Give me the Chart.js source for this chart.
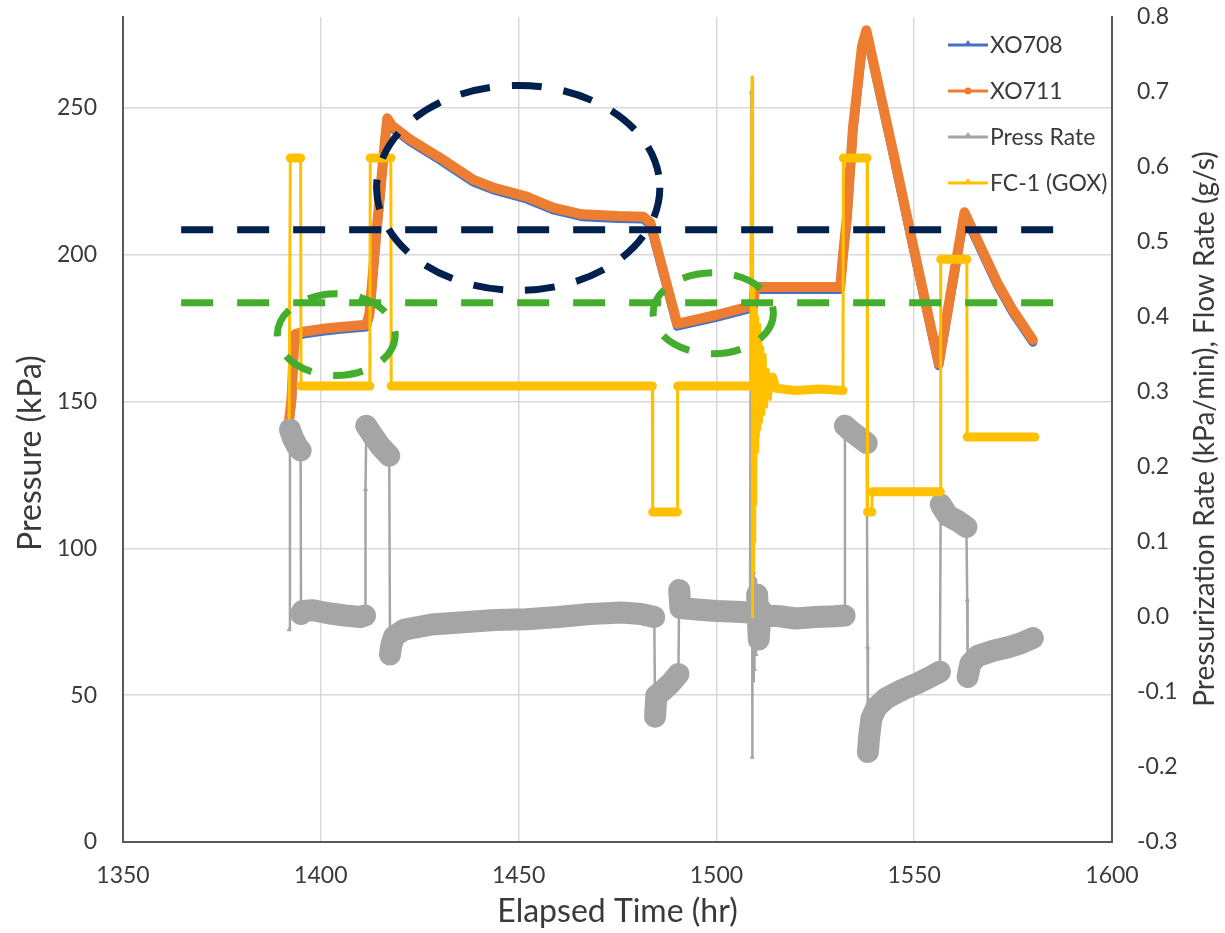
<!DOCTYPE html>
<html>
<head>
<meta charset="utf-8">
<title>Tank pressure and GOX flow</title>
<script src="https://cdn.jsdelivr.net/npm/chart.js@4.4.1/dist/chart.umd.min.js"></script>
<style>
  html, body { margin: 0; padding: 0; background: #fff; }
  #wrap { width: 1225px; height: 933px; }
</style>
</head>
<body>
<div id="wrap"><canvas id="chart"></canvas></div>
<script>
// tank pressure, kPa, against elapsed hours
const pressTime = [1392.0, 1392.6, 1393.2, 1393.6, 1396, 1400, 1405, 1411.5, 1412.3, 1413.0,
  1414.0, 1415.0, 1416.0, 1416.8, 1418.0, 1422.6, 1430.2, 1438.5, 1443.6, 1452,
  1458.7, 1466, 1475, 1481.5, 1483.3, 1490.1, 1500, 1508, 1509.3, 1509.8,
  1520, 1531.3, 1532.0, 1533.0, 1534.5, 1536.8, 1537.9, 1545, 1550, 1556.2,
  1562.7, 1571, 1575, 1580];
const xo711 = [144, 151, 168, 173, 173.9, 174.7, 175.4, 176.2, 180, 191,
  207, 221, 236, 246.5, 244, 239.3, 233, 225.6, 222.9, 219.8,
  216.1, 213.8, 213.2, 213, 211, 176.5, 179.5, 182.3, 183, 189,
  189, 189, 200, 213, 243, 271, 276.5, 233, 201.5, 163,
  214.5, 190.5, 181, 171];
const xo708 = [143.2, 150.2, 167.2, 172.2, 173.1, 173.9, 174.6, 175.4, 179.2, 190.2,
  206.2, 220.2, 235.2, 245.7, 243.2, 238.5, 232.2, 224.8, 222.1, 219.0,
  215.3, 213.0, 212.4, 212.2, 210.2, 175.7, 178.7, 181.5, 182.2, 188.2,
  188.2, 188.2, 199.2, 212.2, 242.2, 270.2, 275.7, 232.2, 200.7, 162.2,
  213.7, 189.7, 180.2, 170.2];

// pressurization rate, kPa/min
const rateTime = [1392.0, 1392.2, 1393.0, 1394.0, 1394.9, 1395.0, 1395.4, 1398, 1402, 1406,
  1410, 1411.2, 1411.3, 1411.5, 1413, 1415, 1417.3, 1417.5, 1417.8, 1418.5,
  1421, 1428, 1436, 1444, 1452, 1460, 1468, 1476, 1481, 1484.3,
  1484.5, 1484.8, 1486.5, 1488.5, 1490.4, 1490.6, 1490.9, 1495, 1500, 1505,
  1508.5, 1508.8, 1508.9, 1509.0, 1509.05, 1509.15, 1509.3, 1509.45, 1509.6, 1509.8,
  1510.0, 1510.3, 1510.7, 1511.2, 1512, 1516, 1520, 1525, 1530, 1532.4,
  1532.5, 1534, 1536, 1538.0, 1538.2, 1538.3, 1538.6, 1539.2, 1540.5, 1543,
  1547, 1551, 1554, 1556.5, 1556.7, 1558.5, 1561, 1563.2, 1563.4, 1563.5,
  1564.2, 1566, 1570, 1574, 1577, 1580];
const pressRate = [-0.017, 0.25, 0.238, 0.228, 0.222, 0.004, 0.008, 0.009, 0.005, 0.002,
  0.0, 0.002, 0.17, 0.255, 0.243, 0.228, 0.215, -0.05, -0.038, -0.026,
  -0.017, -0.01, -0.007, -0.004, -0.003, 0.0, 0.004, 0.006, 0.004, 0.0,
  -0.133, -0.105, -0.098, -0.088, -0.076, 0.036, 0.012, 0.01, 0.008, 0.007,
  0.006, 0.70, 0.48, 0.32, -0.187, 0.07, -0.085, 0.06, -0.07, 0.05,
  -0.05, 0.03, -0.03, 0.01, 0.002, 0.001, -0.002, 0.0, 0.001, 0.002,
  0.255, 0.248, 0.24, 0.232, -0.04, -0.18, -0.16, -0.135, -0.12, -0.108,
  -0.097, -0.088, -0.08, -0.073, 0.15, 0.135, 0.128, 0.12, 0.023, -0.08,
  -0.062, -0.052, -0.045, -0.04, -0.035, -0.028];

// GOX flow controller FC-1, g/s
const flowTime = [1392.0, 1392.3, 1394.9, 1395.0, 1412.4, 1412.5, 1417.7, 1417.8, 1483.8, 1483.9,
  1490.1, 1490.2, 1508.8, 1509.0, 1509.1, 1509.2, 1509.3, 1509.4, 1509.5, 1509.6,
  1509.7, 1509.8, 1509.9, 1510.0, 1510.15, 1510.3, 1510.45, 1510.6, 1510.8, 1511.0,
  1511.2, 1511.4, 1511.7, 1512.0, 1512.3, 1512.7, 1513.1, 1513.6, 1514.2, 1515,
  1520, 1526, 1532.0, 1532.1, 1538.1, 1538.2, 1539.3, 1539.4, 1556.6, 1556.7,
  1563.3, 1563.4, 1580.5];
const fc1 = [0.265, 0.612, 0.612, 0.308, 0.308, 0.612, 0.612, 0.308, 0.308, 0.14,
  0.14, 0.308, 0.308, 0.72, 0.0, 0.30, 0.44, 0.06, 0.43, 0.10,
  0.42, 0.15, 0.41, 0.19, 0.41, 0.22, 0.40, 0.24, 0.39, 0.25,
  0.38, 0.26, 0.36, 0.27, 0.35, 0.28, 0.33, 0.29, 0.32, 0.305,
  0.302, 0.304, 0.302, 0.612, 0.612, 0.14, 0.14, 0.167, 0.167, 0.477,
  0.477, 0.24, 0.24];

const timeTicks = [1350, 1400, 1450, 1500, 1550, 1600];
const pressureTicks = [0, 50, 100, 150, 200, 250];
const rateTicks = [-0.3, -0.2, -0.1, 0, 0.1, 0.2, 0.3, 0.4, 0.5, 0.6, 0.7, 0.8];

// marked pressure levels (kPa) and the time span they are drawn over
const limitLevels = [208.5, 183.7];
const limitSpan = [1364.7, 1585.2];
// circled regions: centre time/pressure and half-widths in hours / kPa
const regionTime = [1449.9, 1403.9, 1499.2];
const regionPress = [222.8, 172.8, 180.1];
const regionHalfTime = [35.8, 14.9, 15.2];
const regionHalfPress = [34.9, 13.9, 13.8];

const FONT = 'Lato, "Open Sans", sans-serif';
const TEXT = '#3a3a3a';
const NAVY = '#00214d';
const GREEN = '#43ad2e';

const pts = (xs, ys) => xs.map((x, i) => ({ x: x, y: ys[i] }));
const fixedTicks = list => scale => { scale.ticks = list.map(v => ({ value: v })); };
// keep the plot box where the axes put it, no extra room for end labels
const noEdgePadding = size => scale => {
  if (scale.isHorizontal()) scale.height = size; else scale.width = size;
  scale.paddingTop = 0; scale.paddingBottom = 0;
  scale.paddingLeft = 0; scale.paddingRight = 0;
};

const markup = {
  id: 'markup',
  afterDatasetsDraw(chart) {
    const { ctx, scales: { x, y } } = chart;
    ctx.save();
    ctx.lineWidth = 7;
    ctx.lineCap = 'butt';
    ctx.setLineDash([32, 24]);
    [NAVY, GREEN].forEach((col, i) => {
      const py = y.getPixelForValue(limitLevels[i]);
      ctx.strokeStyle = col;
      ctx.beginPath();
      ctx.moveTo(x.getPixelForValue(limitSpan[0]), py);
      ctx.lineTo(x.getPixelForValue(limitSpan[1]), py);
      ctx.stroke();
    });
    ctx.setLineDash([30, 22]);
    regionTime.forEach((t, i) => {
      const cx = x.getPixelForValue(t);
      const cy = y.getPixelForValue(regionPress[i]);
      const rx = x.getPixelForValue(t + regionHalfTime[i]) - cx;
      const ry = cy - y.getPixelForValue(regionPress[i] + regionHalfPress[i]);
      ctx.strokeStyle = i === 0 ? NAVY : GREEN;
      ctx.beginPath();
      ctx.ellipse(cx, cy, rx, ry, 0, 0, Math.PI * 2);
      ctx.stroke();
    });
    ctx.restore();
  }
};

const legendAndTitles = {
  id: 'legendAndTitles',
  afterDraw(chart) {
    const { ctx, chartArea: a } = chart;
    ctx.save();
    // legend, top right inside the plot
    ctx.font = '23px ' + FONT;
    ctx.textBaseline = 'middle';
    ctx.textAlign = 'left';
    chart.data.datasets.forEach((ds, i) => {
      const yy = a.top + 28 + i * 46;
      const x0 = a.right - 164;
      ctx.strokeStyle = ds.borderColor;
      ctx.lineWidth = 3;
      ctx.setLineDash([]);
      ctx.beginPath();
      ctx.moveTo(x0, yy);
      ctx.lineTo(x0 + 40, yy);
      ctx.stroke();
      ctx.fillStyle = ds.borderColor;
      ctx.beginPath();
      if (ds.pointStyle === 'circle') {
        ctx.arc(x0 + 20, yy, 3.5, 0, Math.PI * 2);
      } else {
        ctx.moveTo(x0 + 16, yy + 1);
        ctx.lineTo(x0 + 20, yy - 5);
        ctx.lineTo(x0 + 24, yy + 1);
      }
      ctx.fill();
      ctx.fillStyle = TEXT;
      ctx.fillText(ds.label, x0 + 42, yy + 1);
    });
    // axis titles
    ctx.fillStyle = TEXT;
    ctx.textAlign = 'center';
    ctx.font = '32px ' + FONT;
    ctx.fillText('Elapsed Time (hr)', (a.left + a.right) / 2, 912);
    ctx.translate(31, 453);
    ctx.rotate(-Math.PI / 2);
    ctx.fillText('Pressure (kPa)', 0, 0);
    ctx.setTransform(1, 0, 0, 1, 0, 0);
    ctx.font = '28px ' + FONT;
    ctx.translate(1205, 429);
    ctx.rotate(-Math.PI / 2);
    ctx.fillText('Pressurization Rate (kPa/min), Flow Rate (g/s)', 0, 0);
    ctx.restore();
  }
};

// thin lines for step changes, thick where the trace dwells
const widthBy = (limit, thin, thick) => c =>
  Math.abs(c.p1.parsed.y - c.p0.parsed.y) > limit ? thin : thick;

const tickFont = { family: FONT, size: 23 };

new Chart(document.getElementById('chart'), {
  type: 'line',
  data: {
    datasets: [
      {
        label: 'XO708', data: pts(pressTime, xo708), yAxisID: 'y', order: 3,
        borderColor: '#4472c4', backgroundColor: '#4472c4', borderWidth: 9,
        pointRadius: 0, pointStyle: 'triangle'
      },
      {
        label: 'XO711', data: pts(pressTime, xo711), yAxisID: 'y', order: 2,
        borderColor: '#ed7d31', backgroundColor: '#ed7d31', borderWidth: 10,
        pointRadius: 0, pointStyle: 'circle'
      },
      {
        label: 'Press Rate', data: pts(rateTime, pressRate), yAxisID: 'y2', order: 1,
        borderColor: '#a5a5a5', backgroundColor: '#a5a5a5', borderWidth: 2.5,
        pointRadius: 3, pointBorderWidth: 0, pointStyle: 'triangle',
        segment: { borderWidth: widthBy(0.06, 2.5, 22) }
      },
      {
        label: 'FC-1 (GOX)', data: pts(flowTime, fc1), yAxisID: 'y2', order: 0,
        borderColor: '#ffc000', backgroundColor: '#ffc000', borderWidth: 3,
        pointRadius: 0, pointStyle: 'triangle',
        segment: { borderWidth: widthBy(0.02, 3, 9) }
      }
    ]
  },
  options: {
    responsive: true,
    maintainAspectRatio: false,
    animation: false,
    layout: { padding: { top: 17, left: 0, right: 0, bottom: 0 } },
    datasets: {
      line: { tension: 0, borderCapStyle: 'round', borderJoinStyle: 'round', fill: false }
    },
    plugins: { legend: { display: false }, tooltip: { enabled: false } },
    scales: {
      x: {
        type: 'linear', min: 1350, max: 1600,
        afterBuildTicks: fixedTicks(timeTicks),
        afterFit: noEdgePadding(91),
        grid: { color: '#d9d9d9', lineWidth: 1.5, drawTicks: false },
        border: { color: '#595959', width: 2 },
        ticks: { padding: 20, color: TEXT, font: tickFont, callback: v => String(v) }
      },
      y: {
        position: 'left', min: 0, max: 281,
        afterBuildTicks: fixedTicks(pressureTicks),
        afterFit: noEdgePadding(123),
        grid: { color: '#d9d9d9', lineWidth: 1.5, drawTicks: false },
        border: { color: '#595959', width: 2 },
        ticks: { padding: 26, color: TEXT, font: tickFont, callback: v => String(v) }
      },
      y2: {
        position: 'right', min: -0.3, max: 0.8,
        afterBuildTicks: fixedTicks(rateTicks),
        afterFit: noEdgePadding(113),
        grid: { drawOnChartArea: false, drawTicks: false },
        border: { color: '#595959', width: 2 },
        ticks: { padding: 25, color: TEXT, font: tickFont, callback: v => v.toFixed(1) }
      }
    }
  },
  plugins: [markup, legendAndTitles]
});
</script>
</body>
</html>
